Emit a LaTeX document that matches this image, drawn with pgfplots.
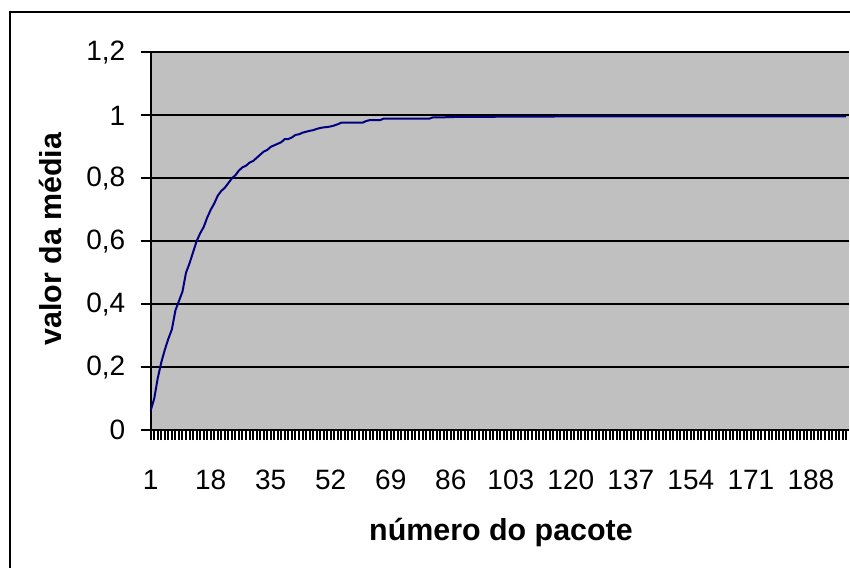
\documentclass[border=0pt]{standalone}
\usepackage{pgfplots}
\pgfplotsset{compat=1.18}
\usepackage{fontspec}
\setmainfont{Liberation Sans}
\definecolor{plotgray}{RGB}{192,192,192}
\definecolor{navyline}{RGB}{0,0,128}
\begin{document}
\begin{tikzpicture}
\useasboundingbox (0,0) rectangle (425pt,283.5pt);
\draw[line width=1pt] (5pt,-2pt) -- (5pt,277.5pt) -- (427pt,277.5pt);
\begin{axis}[
  at={(75.35pt,68.5pt)}, anchor=south west,
  scale only axis, width=349.15pt, height=188.75pt,
  xmin=1, xmax=198.8, ymin=0, ymax=1.2,
  axis background/.style={fill=plotgray},
  axis line style={line width=1pt},
  axis x line*=bottom, axis y line*=left,
  xtick={1,18,35,52,69,86,103,120,137,154,171,188},
  minor xtick={1,...,198},
  ytick={0,0.2,0.4,0.6,0.8,1,1.2},
  yticklabels={0,{0,2},{0,4},{0,6},{0,8},1,{1,2}},
  tick align=outside,
  major tick length=5pt, minor tick length=5pt,
  every tick/.style={black, line width=1pt},
  minor tick style={black, line width=1pt},
  ymajorgrids, grid style={black, line width=1pt},
  tick label style={font=\fontsize{14}{16}\selectfont},
  /pgf/number format/assume math mode=true,
  xticklabel style={anchor=base, yshift=-24.5pt},
  yticklabel style={xshift=-4.2pt},
  xlabel={\textbf{número do pacote}},
  ylabel={\textbf{valor da média}},
  label style={font=\fontsize{15.2}{17}\selectfont},
  x label style={at={(axis description cs:0.5016,-0.2914)}, anchor=base},
  y label style={at={(axis description cs:-0.1442,0.506)}, anchor=center, rotate=0},
  clip=false,
]
\addplot[navyline, line width=1pt] coordinates {
(1,0.062) (2,0.100) (3,0.165) (4,0.215) (5,0.255) (6,0.290) (7,0.320) (8,0.380)
(9,0.410) (10,0.440) (11,0.500) (12,0.530) (13,0.565) (14,0.600) (15,0.625)
(16,0.645) (17,0.675) (18,0.700) (19,0.720) (20,0.745) (21,0.760) (22,0.770)
(23,0.785) (24,0.800) (25,0.810) (26,0.825) (27,0.835) (28,0.840) (29,0.850)
(30,0.855) (31,0.865) (32,0.875) (33,0.885) (34,0.890) (35,0.900) (36,0.905)
(37,0.910) (38,0.915) (39,0.925) (40,0.925) (41,0.930) (42,0.938) (43,0.940)
(44,0.945) (45,0.948) (46,0.951) (47,0.953) (48,0.957) (49,0.960) (50,0.962)
(51,0.963) (52,0.965) (53,0.968) (54,0.972) (55,0.977) (56,0.977) (57,0.977)
(58,0.977) (59,0.977) (60,0.977) (61,0.977) (62,0.982) (63,0.985) (64,0.985)
(65,0.985) (66,0.985) (67,0.990) (68,0.990) (70,0.990) (72,0.990) (74,0.990)
(76,0.990) (78,0.990) (80,0.990) (81,0.994) (84,0.994) (87,0.995) (90,0.995)
(95,0.995) (100,0.996) (110,0.996) (120,0.997) (130,0.997) (140,0.997)
(150,0.997) (160,0.997) (170,0.997) (180,0.997) (190,0.997) (198,0.997)
};
\end{axis}
\end{tikzpicture}
\end{document}
